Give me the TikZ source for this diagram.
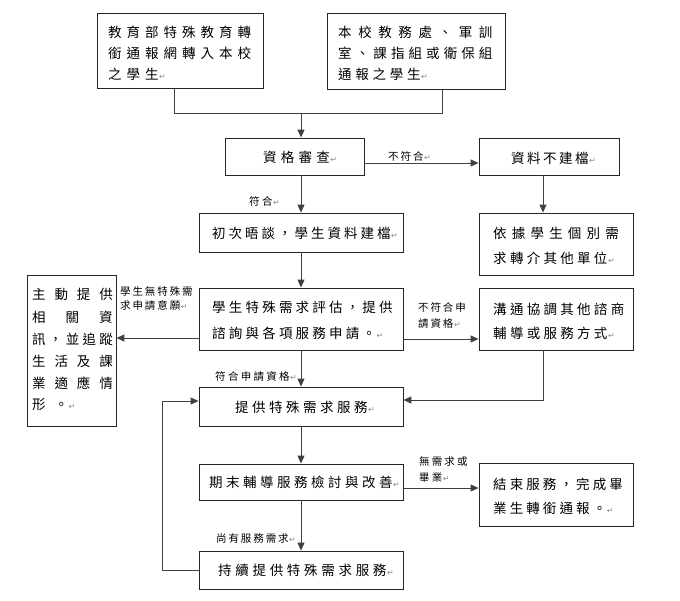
\documentclass[tikz,border=0pt]{standalone}
\usepackage{fontspec}
\setmainfont{Noto Sans CJK TC}
\newfontfamily\symf{DejaVu Sans}
\usetikzlibrary{arrows.meta}
\makeatletter
\newcommand\pl[2]{\@tfor\plx:=#2\do{\makebox[#1pt][l]{\plx}}\hspace{\dimexpr 1em-#1pt\relax}}
\makeatother
\newcommand\rt{\hspace{0.5pt}{\symf\fontsize{8}{8}\selectfont\color{black!45}↵}}
\tikzset{
 box/.style={draw=black!85, line width=0.9pt, inner sep=0, fill=white},
 txt/.style={anchor=west, inner sep=0, font=\fontsize{13.5}{15}\selectfont},
 lbl/.style={anchor=west, inner sep=0, font=\fontsize{10.5}{12}\selectfont},
 arr/.style={draw=black!75, line width=1pt, -{Triangle[length=8pt,width=7pt]}},
 ln/.style={draw=black!75, line width=1pt},
}
\begin{document}
\begin{tikzpicture}[x=1pt,y=-1pt]
\fill[white] (0,0) rectangle (680,600);
\useasboundingbox (0,0) rectangle (680,600);
% boxes
\node[box, minimum width=166pt, minimum height=75pt] (A) at (180,50.5) {};
\node[box, minimum width=178pt, minimum height=76pt] (B) at (416,51) {};
\node[box, minimum width=139pt, minimum height=37pt] (C) at (294.5,156.5) {};
\node[box, minimum width=140pt, minimum height=37pt] (D) at (549,156.5) {};
\node[box, minimum width=204pt, minimum height=39pt] (E) at (301,232.5) {};
\node[box, minimum width=154pt, minimum height=62pt] (F) at (556,244) {};
\node[box, minimum width=204pt, minimum height=62pt] (G) at (301,319) {};
\node[box, minimum width=89pt, minimum height=151pt] (H) at (71.5,350.5) {};
\node[box, minimum width=154pt, minimum height=62pt] (I) at (556,319) {};
\node[box, minimum width=204pt, minimum height=39pt] (J) at (301,406.5) {};
\node[box, minimum width=204pt, minimum height=36pt] (K) at (301,482) {};
\node[box, minimum width=154pt, minimum height=63pt] (L) at (556,494.5) {};
\node[box, minimum width=204pt, minimum height=38pt] (M) at (301,570) {};
% box texts
\node[txt] (tA1) at (108,32) {\pl{18.5}{教育部特殊教育轉}};
\node[txt] (tA2) at (108,53) {\pl{18.5}{銜通報網轉入本校}};
\node[txt] (tA3) at (108,74) {\pl{18.5}{之學生}\rt};
\node[txt] (tB1) at (338,32) {\pl{20.1}{本校教務處、軍訓}};
\node[txt] (tB2) at (338,53) {\pl{17.6}{室、課指組或衛保組}};
\node[txt] (tB3) at (338,74) {\pl{17.2}{通報之學生}\rt};
\node[txt] (tC) at (263,157) {\pl{17.7}{資格審查}\rt};
\node[txt] (tD) at (511,158) {\pl{16}{資料不建檔}\rt};
\node[txt] (tE) at (212,233) {\pl{16.5}{初次晤談，學生資料建檔}\rt};
\node[txt] (tF1) at (493,233) {\pl{18.7}{依據學生個別需}};
\node[txt] (tF2) at (493,258) {\pl{16.8}{求轉介其他單位}\rt};
\node[txt] (tG1) at (212,307) {\pl{16.7}{學生特殊需求評估，提供}};
\node[txt] (tG2) at (212,333) {\pl{16.7}{諮詢與各項服務申請。}\rt};
\node[txt] (tH1) at (32,294) {\pl{22.4}{主動提供}};
\node[txt] (tH2) at (32,317) {\pl{33.5}{相關資}};
\node[txt] (tH3) at (32,339) {\pl{16.8}{訊，並追蹤}};
\node[txt] (tH4) at (32,361) {\pl{22.4}{生活及課}};
\node[txt] (tH5) at (32,383) {\pl{22.4}{業適應情}};
\node[txt] (tH6) at (32,405) {\pl{22.4}{形。}\rt};
\node[txt] (tI1) at (493,309) {\pl{16.8}{溝通協調其他諮商}};
\node[txt] (tI2) at (493,333) {\pl{16.8}{輔導或服務方式}\rt};
\node[txt] (tJ) at (235,407) {\pl{17}{提供特殊需求服務}\rt};
\node[txt] (tK) at (209,482) {\pl{17}{期末輔導服務檢討與改善}\rt};
\node[txt] (tL1) at (493,484) {\pl{16.6}{結束服務，完成畢}};
\node[txt] (tL2) at (493,508) {\pl{16.6}{業生轉銜通報。}\rt};
\node[txt] (tM) at (218,570) {\pl{17.2}{持續提供特殊需求服務}\rt};
% labels
\node[lbl] (l1) at (388,156) {\pl{12.5}{不符合}\rt};
\node[lbl] (l2) at (249,201) {\pl{12.8}{符合}\rt};
\node[lbl] (l3a) at (120,291) {\pl{12.4}{學生無特殊需}};
\node[lbl] (l3b) at (120,306) {\pl{12.4}{求申請意願}\rt};
\node[lbl] (l4a) at (418,307) {\pl{12.4}{不符合申}};
\node[lbl] (l4b) at (418,324) {\pl{12.4}{請資格}\rt};
\node[lbl] (l5) at (215,377) {\pl{12.8}{符合申請資格}\rt};
\node[lbl] (l6a) at (419,461) {\pl{12.6}{無需求或}};
\node[lbl] (l6b) at (419,477) {\pl{12.6}{畢業}\rt};
\node[lbl] (l7) at (216,539) {\pl{12.4}{尚有服務需求}\rt};
% connectors
\coordinate (m) at (301,113);
\draw[ln] (A.south -| 174,0) |- (m);
\draw[ln] (B.south -| 442,0) |- (m);
\draw[arr] (m) -- (m |- C.north);
\draw[arr] (C.east |- 0,163) -- (D.west |- 0,163);
\draw[arr] (C.south -| 301,0) -- (E.north -| 301,0);
\draw[arr] (D.south -| 543,0) -- (F.north -| 543,0);
\draw[arr] (E.south -| 301,0) -- (G.north -| 301,0);
\draw[arr] (G.west |- 0,338) -- (H.east |- 0,338);
\draw[arr] (G.east |- 0,339) -- (I.west |- 0,339);
\draw[arr] (G.south -| 301,0) -- (J.north -| 301,0);
\draw[arr] (I.south -| 543,0) |- (J.east |- 0,400);
\draw[arr] (J.south -| 301,0) -- (K.north -| 301,0);
\draw[arr] (K.east |- 0,488) -- (L.west |- 0,488);
\draw[arr] (K.south -| 301,0) -- (M.north -| 301,0);
\coordinate (lt) at (162,401);
\draw[arr] (M.west) -| (lt) -- (J.west |- lt);
\end{tikzpicture}
\end{document}
